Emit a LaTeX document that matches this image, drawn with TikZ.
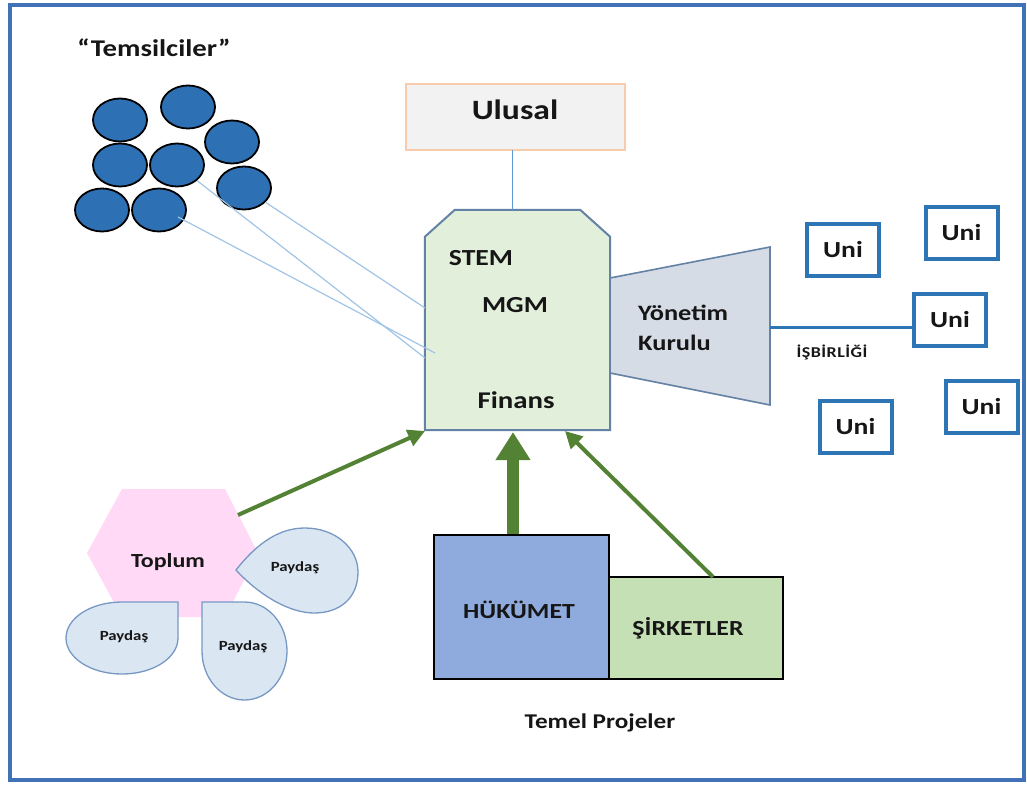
\documentclass[tikz,border=0pt]{standalone}
\usepackage{fontspec}
\setmainfont{Carlito}[FakeStretch=1.2]
\usetikzlibrary{arrows.meta,shapes.geometric,calc}
\definecolor{frameblue}{RGB}{65,113,182}
\definecolor{dotblue}{RGB}{46,112,180}
\definecolor{thinblue}{RGB}{160,196,230}
\definecolor{lineblue}{RGB}{91,155,213}
\definecolor{mgmfill}{RGB}{226,239,218}
\definecolor{mgmdraw}{RGB}{100,130,165}
\definecolor{ulfill}{RGB}{242,242,242}
\definecolor{uldraw}{RGB}{248,203,173}
\definecolor{trapfill}{RGB}{214,220,229}
\definecolor{unidraw}{RGB}{46,117,182}
\definecolor{arrgreen}{RGB}{84,130,53}
\definecolor{hexfill}{RGB}{255,217,245}
\definecolor{paydasfill}{RGB}{219,230,243}
\definecolor{paydasdraw}{RGB}{120,152,196}
\definecolor{hukfill}{RGB}{143,170,220}
\definecolor{sirfill}{RGB}{197,224,180}
\definecolor{txt}{RGB}{22,22,22}
\tikzset{
  lbl/.style={text=txt, inner sep=0pt, anchor=base},
  fs/.style={font=\bfseries\fontsize{#1}{#1}\selectfont},
  dot/.style={ellipse, draw=black, line width=1.8pt, fill=dotblue,
    minimum width=54pt, minimum height=43pt, inner sep=0pt},
  unibox/.style={draw=unidraw, line width=4pt, fill=white, minimum width=72pt,
    minimum height=52pt, inner sep=0pt, text=txt, fs=23},
  thinline/.style={draw=thinblue, line width=1.2pt},
  garrow/.style={draw=arrgreen, line width=4pt, -{Triangle[length=17pt,width=17pt]}},
  bigarrow/.style={draw=arrgreen, line width=12pt, -{Triangle[length=28pt,width=33pt]}},
  paydas/.style={fill=paydasfill, draw=paydasdraw, line width=1.3pt},
  projbox/.style={draw=black, line width=1.5pt, inner sep=0pt, text=txt, fs=21.5}
}
\begin{document}
\begin{tikzpicture}[x=1pt,y=-1pt]
\useasboundingbox (0,0) rectangle (1027,785);
\fill[white] (0,0) rectangle (1027,785);
\draw[frameblue, line width=4pt] (10,5) rectangle (1024,780);

% Temsilciler
\node[lbl, fs=24] (tems) at (154,56) {“Temsilciler”};
\node[dot] (c1) at (120,120) {};
\node[dot] (c2) at (188,107) {};
\node[dot] (c3) at (232,142) {};
\node[dot] (c4) at (120,165) {};
\node[dot] (c5) at (177,165) {};
\node[dot] (c6) at (244,188) {};
\node[dot] (c7) at (102,210) {};
\node[dot] (c8) at (159,210) {};

% Ulusal
\node[draw=uldraw, fill=ulfill, line width=1.2pt, minimum width=219pt,
      minimum height=66pt, inner sep=0pt] (ulusal) at (515.5,117) {};
\node[lbl, fs=28] (ultext) at (515,119) {Ulusal};

% MGM box (chamfered top corners)
\node[minimum width=185pt, minimum height=220pt, inner sep=0pt] (mgm) at (517.5,320) {};
\draw[draw=mgmdraw, fill=mgmfill, line width=2pt]
  (mgm.south west) -- ($(mgm.north west)+(0,27)$) -- ($(mgm.north west)+(30,0)$)
  -- ($(mgm.north east)+(-30,0)$) -- ($(mgm.north east)+(0,27)$) -- (mgm.south east) -- cycle;
\node[lbl, fs=23] (stem) at (481,265) {STEM};
\node[lbl, fs=23] (mgmtext) at (515,312) {MGM};
\node[lbl, fs=24] (finans) at (516,408) {Finans};

\draw[draw=lineblue, line width=1pt] (512,150) coordinate (ulS) -- (ulS |- mgm.north);

% thin lines
\coordinate (la) at (425,308);
\coordinate (lb) at (425,358);
\coordinate (lc) at (435,353);
\coordinate (lcs) at (178,217);
\draw[thinline] (c6) -- (la);
\draw[thinline] (c5) -- (lb);
\draw[thinline] (lcs) -- (lc);

% Yonetim Kurulu
\coordinate (kTL) at (610,278);
\coordinate (kTR) at (770,247);
\coordinate (kBR) at (770,405);
\coordinate (kBL) at (610,373);
\draw[fill=trapfill, draw=mgmdraw, line width=1.6pt] (kTL) -- (kTR) -- (kBR) -- (kBL) -- cycle;
\node[lbl, fs=22, anchor=base west] (yon) at (638,320) {Yönetim};
\node[lbl, fs=22, anchor=base west] (kur) at (638,350) {Kurulu};
\coordinate (kR) at (770,327);

% Uni boxes
\node[unibox] (u1) at (843,249.5) {Uni};
\node[unibox] (u2) at (961.5,233) {Uni};
\node[unibox] (u3) at (950,319.5) {Uni};
\node[unibox] (u4) at (855.5,426.5) {Uni};
\node[unibox] (u5) at (981.5,407) {Uni};
\draw[draw=unidraw, line width=3pt] (kR) -- (kR -| u3.west);
\node[lbl, fs=15] (isb) at (832,357) {\addfontfeature{LetterSpace=3}İŞBİRLİĞİ};

% Toplum hexagon
\fill[hexfill] (87,553) -- (122,489) -- (225,489) -- (258,553) -- (225,617) -- (122,617) -- cycle;
\node[lbl, fs=20] (toplum) at (168,567) {Toplum};
\coordinate (hexA) at (238,515);

% Paydas drops
\draw[paydas] (236,570) .. controls (258,542) and (280,528) .. (305,528)
  .. controls (335,528) and (358,548) .. (358,572)
  .. controls (358,598) and (340,613) .. (314,613)
  .. controls (290,613) and (260,596) .. cycle;
\node[lbl, fs=14] (p1) at (295,571) {Paydaş};
\draw[paydas] (178,602) -- (178,638)
  .. controls (178,658) and (153,674) .. (122,674)
  .. controls (91,674) and (66,658) .. (66,638)
  .. controls (66,618) and (91,602) .. (122,602) -- cycle;
\node[lbl, fs=14] (p2) at (124,640) {Paydaş};
\draw[paydas] (202,602) -- (244.5,602)
  .. controls (268,602) and (287,624) .. (287,651)
  .. controls (287,678) and (268,700) .. (244.5,700)
  .. controls (221,700) and (202,678) .. (202,651) -- cycle;
\node[lbl, fs=14] (p3) at (243,650) {Paydaş};

% project boxes
\node[projbox, fill=hukfill, minimum width=175pt, minimum height=144pt] (huk) at (521.5,607) {};
\node[projbox, fill=sirfill, minimum width=174pt, minimum height=102pt] (sir) at (696,628) {};
\node[lbl, fs=21.5] (huktext) at (519,618) {HÜKÜMET};
\node[lbl, fs=21.5] (sirtext) at (688,635) {ŞİRKETLER};
\node[lbl, fs=21] (temel) at (600,728) {Temel Projeler};

% arrows
\coordinate (aEnd) at (425,431);
\coordinate (bEnd) at (513,432);
\coordinate (cEnd) at (565,431);
\coordinate (cStart) at (713,577);
\draw[garrow] (hexA) -- (aEnd);
\draw[bigarrow] (huk.north -| bEnd) -- (bEnd);
\draw[garrow] (cStart) -- (cEnd);
\end{tikzpicture}
\end{document}
